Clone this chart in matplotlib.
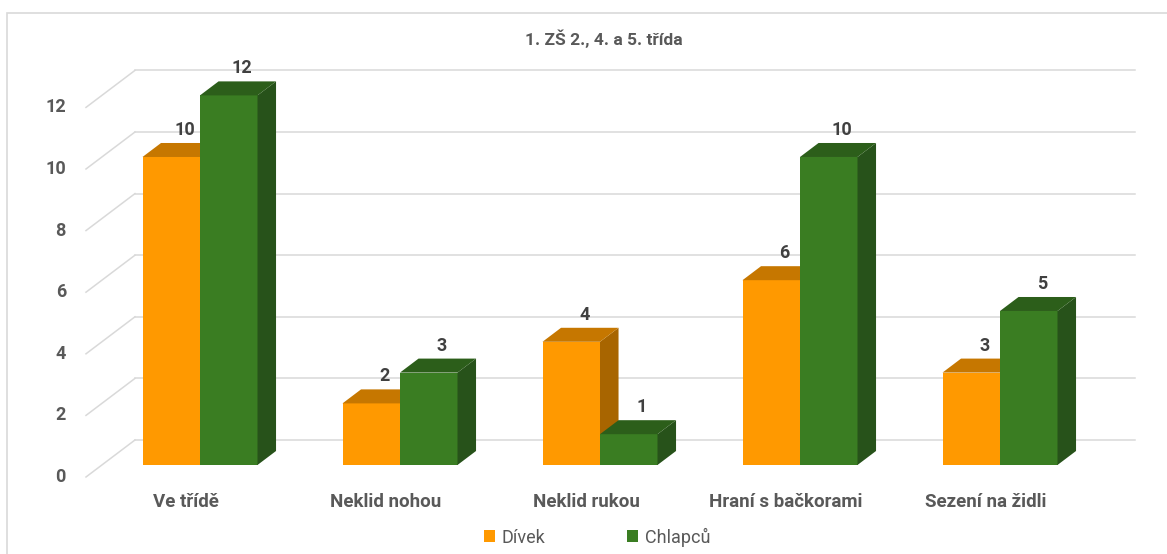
import matplotlib.pyplot as plt
from matplotlib.patches import Polygon, Rectangle, Patch

# data
categories = ["Ve třídě", "Neklid nohou", "Neklid rukou", "Hraní s bačkorami", "Sezení na židli"]
divek = [10, 2, 4, 6, 3]
chlapcu = [12, 3, 1, 10, 5]
series_names = ["Dívek", "Chlapců"]
title = "1. ZŠ 2., 4. a 5. třída"
yticks = [0, 2, 4, 6, 8, 10, 12]

# colours: front, top, side
ORANGE = ("#FF9900", "#C67700", "#A86500")
GREEN = ("#3A7D22", "#2C5E1A", "#27521A")
GRID = "#D9D9D9"
TEXT = "#595959"
FONT = "Roboto"

# pseudo-3D geometry (pixels on a 1167x554 canvas)
PX_X = 200.0      # pixels per category
PX_Y = 30.8       # pixels per value unit
SLOPE = 1.324     # horizontal shift per pixel of depth
BAR_W = 0.2875    # bar width in category units
BAR_D = 14        # bar depth in pixels
WALL_D = 25       # back wall depth in pixels
FLOOR_D = -12     # front floor edge depth in pixels


def shift(d):
    return SLOPE * d / PX_X, d / PX_Y


fig = plt.figure(figsize=(11.67, 5.54), dpi=100)
ax = fig.add_axes([0, 0, 1, 1])
ax.set_xlim(-1.0, 4.835)
ax.set_ylim(-2.89, 15.097)
ax.axis("off")

# chart frame
fig.patches.append(Rectangle((7 / 1167, -0.1), 1.2, 1 - 13 / 554 + 0.1, transform=fig.transFigure,
                             fill=False, edgecolor=GRID, linewidth=1.2))

# back wall gridlines and left-side depth lines
left_x = -0.57
right_x = (1135 - 200) / PX_X
fx, fy = shift(FLOOR_D)
wx, wy = shift(WALL_D)
for v in yticks:
    ax.plot([left_x, left_x + (wx - fx)], [v + fy, v + wy], color=GRID, lw=1.1, zorder=1)
    ax.plot([left_x + (wx - fx), right_x], [v + wy, v + wy], color=GRID, lw=1.1, zorder=1)
    ax.text(left_x - 0.1, v + fy, str(v), ha="right", va="center", fontsize=13,
            fontweight="bold", color=TEXT, family=FONT)


def bar3d(x0, h, colors):
    dx, dy = shift(BAR_D)
    x1 = x0 + BAR_W
    ax.add_patch(Rectangle((x0, 0), BAR_W, h, facecolor=colors[0], edgecolor="none", zorder=3))
    ax.add_patch(Polygon([(x1, 0), (x1 + dx, dy), (x1 + dx, h + dy), (x1, h)],
                         facecolor=colors[2], edgecolor="none", zorder=3))
    ax.add_patch(Polygon([(x0, h), (x1, h), (x1 + dx, h + dy), (x0 + dx, h + dy)],
                         facecolor=colors[1], edgecolor="none", zorder=3))
    lx, ly = shift(10)
    ax.text(x0 + BAR_W / 2 + lx, h + dy + 13 / PX_Y, str(h), ha="center", va="center",
            fontsize=13, fontweight="bold", color="#404040", family=FONT, zorder=4)


for i in range(len(categories)):
    bar3d(i - BAR_W, divek[i], ORANGE)
    bar3d(i, chlapcu[i], GREEN)
    ax.text(i - 0.07, -37 / PX_Y, categories[i], ha="center", va="center", fontsize=13.5,
            fontweight="bold", color=TEXT, family=FONT)

fig.text(604 / 1167, 1 - 39 / 554, title, ha="center", va="center", fontsize=12.5,
         fontweight="bold", color=TEXT, family=FONT)

handles = [Patch(facecolor=ORANGE[0]), Patch(facecolor=GREEN[0])]
fig.legend(handles, series_names, loc="center", bbox_to_anchor=(597 / 1167, 1 - 537 / 554),
           ncol=2, frameon=False, handlelength=0.6, handleheight=0.6, handletextpad=0.4,
           columnspacing=4.5, prop={"family": FONT, "size": 13}, labelcolor=TEXT)

fig.savefig("out.png", dpi=100)
